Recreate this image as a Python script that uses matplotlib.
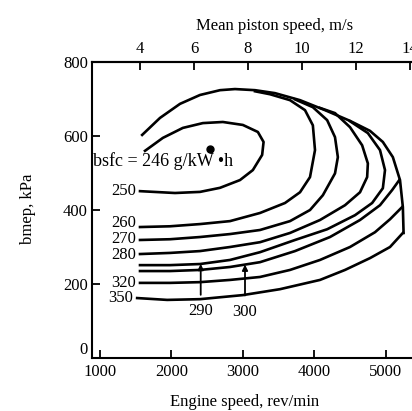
import matplotlib
matplotlib.use("Agg")
import matplotlib.pyplot as plt
import numpy as np

plt.rcParams['font.family'] = ['Liberation Serif', 'DejaVu Serif']
plt.rcParams['font.size'] = 12

# full-load (wide open throttle) boundary
WOT_RPM = [1590, 1840, 2120, 2400, 2680, 2890, 3170, 3450, 3800, 4150, 4500, 4780, 4960, 5100, 5200, 5240, 5250]
WOT_BMEP = [603, 649, 687, 711, 724, 727, 724, 716, 697, 670, 641, 614, 584, 543, 481, 408, 338]

# bsfc contours, g/kW.h
BSFC_250_RPM = [1630, 1880, 2160, 2440, 2720, 3000, 3210, 3290, 3270, 3140, 2960, 2680, 2400, 2050, 1560]
BSFC_250_BMEP = [560, 595, 622, 635, 638, 630, 611, 584, 549, 508, 481, 460, 449, 446, 451]
BSFC_260_RPM = [1560, 1980, 2400, 2820, 3240, 3590, 3800, 3940, 4010, 3980, 3870, 3660, 3380, 3170]
BSFC_260_BMEP = [354, 356, 362, 370, 392, 419, 448, 489, 562, 629, 670, 697, 713, 721]
BSFC_270_RPM = [1560, 1980, 2400, 2820, 3240, 3660, 3940, 4120, 4290, 4330, 4290, 4180, 3980, 3730]
BSFC_270_BMEP = [319, 321, 327, 335, 346, 370, 400, 440, 499, 543, 597, 643, 678, 699]
BSFC_280_RPM = [1560, 1980, 2400, 2820, 3240, 3660, 4080, 4430, 4640, 4740, 4750, 4670, 4500, 4290, 4080]
BSFC_280_BMEP = [281, 284, 289, 300, 313, 338, 373, 413, 448, 489, 526, 575, 624, 662, 676]
BSFC_290_RPM = [1560, 1980, 2400, 2820, 3240, 3730, 4180, 4570, 4810, 4960, 4990, 4920, 4750, 4500]
BSFC_290_BMEP = [251, 251, 254, 265, 286, 319, 348, 386, 419, 459, 508, 562, 608, 640]
BSFC_300_RPM = [1560, 1980, 2400, 2820, 3240, 3730, 4220, 4640, 4920, 5090, 5190]
BSFC_300_BMEP = [235, 235, 238, 246, 259, 289, 327, 373, 413, 454, 481]
BSFC_320_RPM = [1560, 1980, 2400, 2820, 3240, 3660, 4080, 4500, 4850, 5060, 5230]
BSFC_320_BMEP = [203, 203, 205, 211, 219, 238, 265, 300, 340, 375, 408]
BSFC_350_RPM = [1520, 1940, 2400, 3000, 3520, 4080, 4430, 4780, 5060, 5240]
BSFC_350_BMEP = [162, 157, 159, 170, 186, 211, 238, 270, 300, 338]

# minimum bsfc point
OPT_RPM = 2540
OPT_BMEP = 565
OPT_BSFC = 246

# contours labelled at the left end, and the two labelled with arrows
LEFT_LABELLED = [250, 260, 270, 280, 320, 350]
ARROW_LEVELS = [290, 300]
ARROW_RPM = [2410, 3030]

X_TICKS = [1000, 2000, 3000, 4000, 5000]
Y_TICKS = [0, 200, 400, 600, 800]
PISTON_TICKS = [4, 6, 8, 10, 12, 14]

# rev/min <-> mean piston speed (m/s), fitted to the top scale
def to_piston(n):
    return (np.asarray(n, dtype=float) - 49.0) / 377.7

def to_rpm(s):
    return np.asarray(s, dtype=float) * 377.7 + 49.0


contours = {
    250: (BSFC_250_RPM, BSFC_250_BMEP),
    260: (BSFC_260_RPM, BSFC_260_BMEP),
    270: (BSFC_270_RPM, BSFC_270_BMEP),
    280: (BSFC_280_RPM, BSFC_280_BMEP),
    290: (BSFC_290_RPM, BSFC_290_BMEP),
    300: (BSFC_300_RPM, BSFC_300_BMEP),
    320: (BSFC_320_RPM, BSFC_320_BMEP),
    350: (BSFC_350_RPM, BSFC_350_BMEP),
}

fig = plt.figure(figsize=(4.12, 4.11), dpi=100)
ax = fig.add_axes([0.2233, 0.129, 0.7767, 0.720])

lw = 1.9
ax.plot(WOT_RPM, WOT_BMEP, color='black', lw=lw, solid_joinstyle='round')
for level, (rpm, bmep) in contours.items():
    ax.plot(rpm, bmep, color='black', lw=lw, solid_joinstyle='round')

# labels at the left ends of the contours (small nudges so they don't collide)
nudge = {260: 3, 270: 1, 280: -1}
for level in LEFT_LABELLED:
    rpm, bmep = contours[level]
    if level == 250:
        xy = (rpm[-1], bmep[-1])
    else:
        xy = (rpm[0], bmep[0])
    ax.annotate(str(level), xy=xy, xytext=(-3, nudge.get(level, 0)),
                textcoords='offset points', ha='right', va='center')

# arrowed labels
for level, n in zip(ARROW_LEVELS, ARROW_RPM):
    rpm, bmep = contours[level]
    k = int(np.argmax(rpm))
    y = np.interp(n, rpm[:k + 1], bmep[:k + 1])
    ax.annotate(str(level), xy=(n, y), xytext=(0, -34), textcoords='offset points',
                ha='center', va='center',
                arrowprops=dict(arrowstyle='-|>', color='black', lw=1.3,
                                mutation_scale=8, shrinkA=4, shrinkB=0))

# minimum bsfc point
ax.plot([OPT_RPM], [OPT_BMEP], 'o', color='black', ms=5)
ax.annotate(f'bsfc = {OPT_BSFC} g/kW •h', xy=(OPT_RPM, OPT_BMEP), xytext=(-84, -9),
            textcoords='offset points', ha='left', va='center', fontsize=13)

ax.set_xlim(888, 5368)
ax.set_ylim(0, 800)
ax.set_xticks(X_TICKS)
ax.set_yticks(Y_TICKS)
ax.spines['right'].set_visible(False)
for s in ['left', 'bottom', 'top']:
    ax.spines[s].set_linewidth(1.5)
ax.tick_params(axis='both', direction='in', length=6, width=1.3, labelsize=12)
ax.tick_params(axis='x', pad=4)
ax.tick_params(axis='y', pad=3)
# the "0" sits just above the bottom axis in the original
ax.get_yticklabels()[0].set_va('bottom')

ax.set_xlabel('Engine speed, rev/min')
ax.xaxis.set_label_coords(0.478, -0.122)
ax.set_ylabel('bmep, kPa')
ax.yaxis.set_label_coords(-0.175, 0.503)

top = ax.secondary_xaxis('top', functions=(to_piston, to_rpm))
top.set_xticks(PISTON_TICKS)
top.tick_params(direction='in', length=6, width=1.3, labelsize=12, pad=4)
top.spines['top'].set_linewidth(1.5)
top.set_xlabel('Mean piston speed, m/s')
top.xaxis.set_label_coords(0.572, 1.108, transform=ax.transAxes)

fig.savefig('out.png', dpi=100)
